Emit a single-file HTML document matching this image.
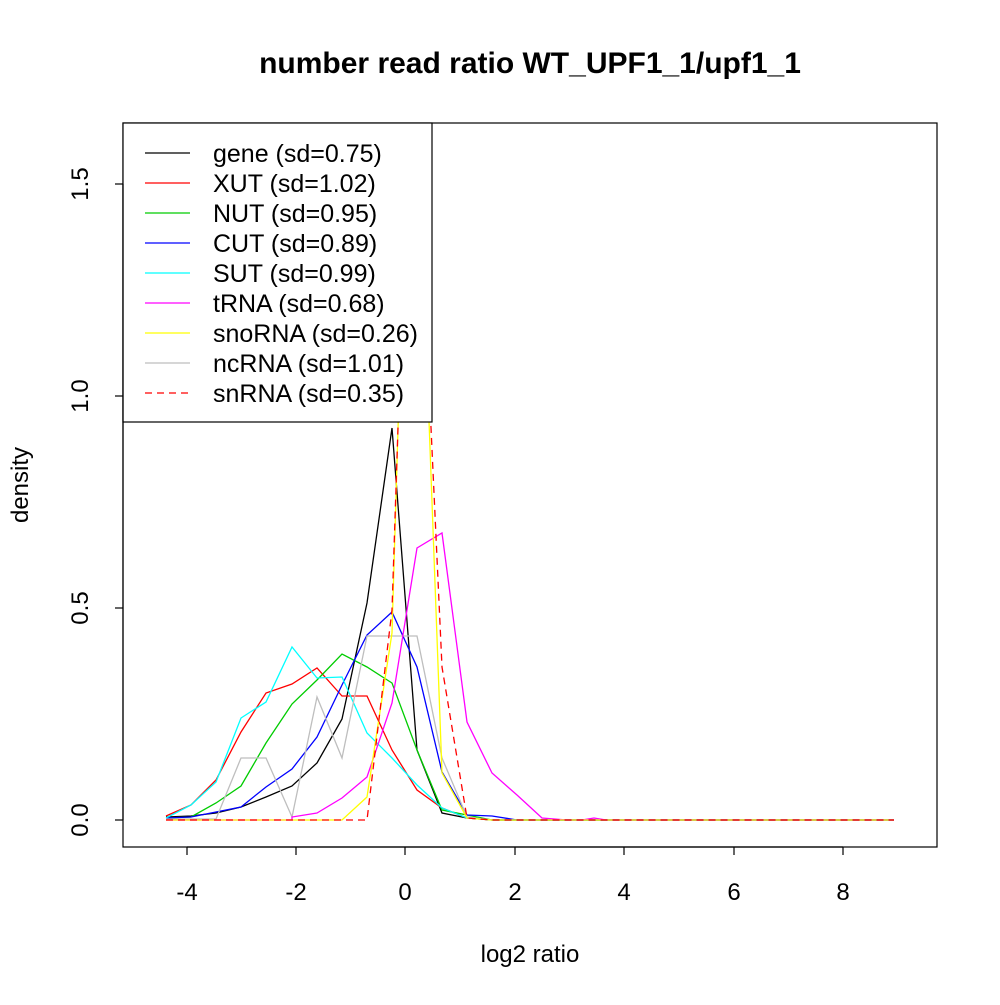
<!DOCTYPE html>
<html><head><style>body{margin:0;background:#fff}</style></head><body>
<svg width="1000" height="1000" xmlns="http://www.w3.org/2000/svg" font-family="Liberation Sans, sans-serif">
<defs><clipPath id="c"><rect x="123" y="123" width="814" height="724"/></clipPath></defs>
<text x="530" y="73" font-size="30" font-weight="bold" text-anchor="middle">number read ratio WT_UPF1_1/upf1_1</text>
<g clip-path="url(#c)" fill="none" stroke-width="1.3">
<polyline stroke="#000" points="166,817 191,816 216,813 241,807 266,797 292,786 317,763 342,719 367,603 392,428 417,750 442,813 467,818 492,820 894,820"/>
<polyline stroke="#f00" points="166,816 191,805 216,780 241,732 266,693 292,684 317,668 342,696 367,696 392,750 417,790 442,808 467,818 492,820 894,820"/>
<polyline stroke="#0c0" points="166,818 191,817 216,803 241,786 266,743 292,704 317,680 342,654 367,667 392,683 417,750 442,810 467,815 492,820 894,820"/>
<polyline stroke="#00f" points="166,818 191,817 216,812 241,807 266,787 292,769 317,737 342,685 367,635 392,612 417,667 442,772 467,815 492,816 517,820 894,820"/>
<polyline stroke="#0ff" points="166,818 191,805 216,782 241,718 266,702 292,647 317,678 342,677 367,733 392,758 417,785 442,808 467,818 492,820 894,820"/>
<polyline stroke="#bebebe" points="166,819 216,819 241,758 266,758 292,817 317,697 342,758 367,636 417,636 442,758 467,817 492,820 894,820"/>
<polyline stroke="#f0f" points="166,820 292,820 292,817 317,813 342,798 367,777 392,703 417,548 442,533 467,722 492,773 517,795 542,818 567,820 582,820 594,818 606,820 894,820"/>
<polyline stroke="#ff0" points="166,820 342,820 367,797 392,633 407,123 418,123 442,773 467,818 492,820 894,820"/>
<polyline stroke="#f00" stroke-dasharray="7,5" points="166,820 367,820 392,610 408,123 417,123 442,667 467,818 492,820 894,820"/>
</g>
<rect x="123" y="123" width="814" height="724" fill="none" stroke="#000" stroke-width="1.2"/>
<rect x="123" y="123" width="309" height="299" fill="#fff" stroke="#000" stroke-width="1.2"/>
<g stroke-width="1.3">
<line x1="145" x2="190" y1="153" y2="153" stroke="#000"/>
<line x1="145" x2="190" y1="183" y2="183" stroke="#f00"/>
<line x1="145" x2="190" y1="213" y2="213" stroke="#0c0"/>
<line x1="145" x2="190" y1="243" y2="243" stroke="#00f"/>
<line x1="145" x2="190" y1="273" y2="273" stroke="#0ff"/>
<line x1="145" x2="190" y1="303" y2="303" stroke="#f0f"/>
<line x1="145" x2="190" y1="333" y2="333" stroke="#ff0"/>
<line x1="145" x2="190" y1="363" y2="363" stroke="#bebebe"/>
<line x1="145" x2="190" y1="393" y2="393" stroke="#f00" stroke-dasharray="7,5"/>
</g>
<g font-size="25">
<text x="213" y="162">gene (sd=0.75)</text>
<text x="213" y="192">XUT (sd=1.02)</text>
<text x="213" y="222">NUT (sd=0.95)</text>
<text x="213" y="252">CUT (sd=0.89)</text>
<text x="213" y="282">SUT (sd=0.99)</text>
<text x="213" y="312">tRNA (sd=0.68)</text>
<text x="213" y="342">snoRNA (sd=0.26)</text>
<text x="213" y="372">ncRNA (sd=1.01)</text>
<text x="213" y="402">snRNA (sd=0.35)</text>
</g>
<g stroke="#000" stroke-width="1.2">
<line x1="187" x2="843" y1="847" y2="847"/>
<line x1="187" x2="187" y1="847" y2="855"/><line x1="296" x2="296" y1="847" y2="855"/><line x1="405" x2="405" y1="847" y2="855"/><line x1="515" x2="515" y1="847" y2="855"/><line x1="624" x2="624" y1="847" y2="855"/><line x1="734" x2="734" y1="847" y2="855"/><line x1="843" x2="843" y1="847" y2="855"/>
<line x1="123" x2="123" y1="184" y2="820"/>
<line x1="115" x2="123" y1="820" y2="820"/><line x1="115" x2="123" y1="608" y2="608"/><line x1="115" x2="123" y1="396" y2="396"/><line x1="115" x2="123" y1="184" y2="184"/>
</g>
<g font-size="24" text-anchor="middle">
<text x="187" y="900">-4</text><text x="296" y="900">-2</text><text x="405" y="900">0</text><text x="515" y="900">2</text><text x="624" y="900">4</text><text x="734" y="900">6</text><text x="843" y="900">8</text>
<text x="530" y="962">log2 ratio</text>
<text transform="translate(88,820) rotate(-90)">0.0</text>
<text transform="translate(88,608) rotate(-90)">0.5</text>
<text transform="translate(88,396) rotate(-90)">1.0</text>
<text transform="translate(88,184) rotate(-90)">1.5</text>
<text transform="translate(28,485) rotate(-90)">density</text>
</g>
</svg>
</body></html>
